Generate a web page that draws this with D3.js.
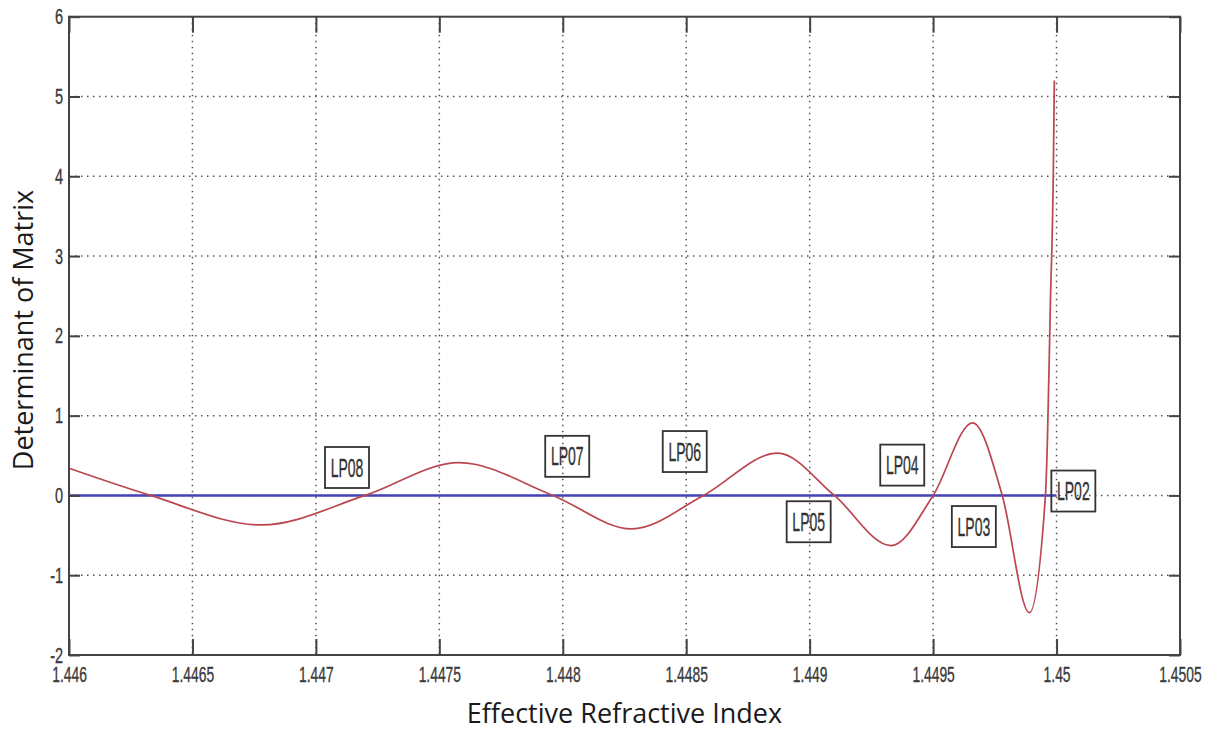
<!DOCTYPE html>
<html>
<head>
<meta charset="utf-8">
<script src="https://cdn.jsdelivr.net/npm/d3@7"></script>
<style>
  body { margin: 0; background: #fff; }
  svg { display: block; }
  .tick text { font-family: "Liberation Sans", Arial, sans-serif; font-size: 22px; fill: #3a3a3a; stroke: #3a3a3a; stroke-width: 0.35px; }
  .titulo { font-family: "Open Sans", sans-serif; font-size: 27px; fill: #1a1a1a; }
  .modo text { font-family: "Liberation Sans", Arial, sans-serif; font-size: 25px; fill: #333; stroke: #333; stroke-width: 0.35px; }
</style>
</head>
<body>
<div class="vis"><svg width="1217" height="731"></svg></div>
<script>

// dados
const x_ticks = [1.446, 1.4465, 1.447, 1.4475, 1.448, 1.4485, 1.449, 1.4495, 1.45, 1.4505];
const x_tick_labels = ["1.446", "1.4465", "1.447", "1.4475", "1.448", "1.4485", "1.449", "1.4495", "1.45", "1.4505"];
const y_ticks = [-2, -1, 0, 1, 2, 3, 4, 5, 6];

const neff = [1.4460, 1.44633, 1.44678, 1.44720, 1.44758, 1.44796, 1.44828, 1.44857, 1.44887,
              1.44910, 1.44933, 1.44950, 1.44966, 1.44978, 1.44989, 1.449955, 1.449963, 1.449975,
              1.449987, 1.449991];
const det  = [0.34, 0, -0.37, 0, 0.41, 0, -0.42, 0, 0.53,
              0, -0.63, 0, 0.91, 0, -1.47, 0, 0.69, 2.4,
              4.08, 5.2];

const linha_zero_neff = [1.446, 1.45];
const linha_zero_det = [0, 0];

const modos = ["LP08", "LP07", "LP06", "LP05", "LP04", "LP03", "LP02"];
const modos_neff = [1.447126, 1.448018, 1.448494, 1.448996, 1.449375, 1.449665, 1.450068];
const modos_det = [0.35, 0.49, 0.55, -0.33, 0.38, -0.39, 0.055];

const vis = {

    sels : {
        svg : null
    },

    dims : {
        left : 69,
        right : 1180,
        top : 16.7,
        bottom : 655
    },

    scales : {
        x : null,
        y : null
    },

    utils : {

        set_scales : function() {

            vis.scales.x = d3.scaleLinear()
              .domain([1.446, 1.4505])
              .range([vis.dims.left, vis.dims.right]);

            vis.scales.y = d3.scaleLinear()
              .domain([-2, 6])
              .range([vis.dims.bottom, vis.dims.top]);

        }

    },

    render : {

        grid : function() {

            const x = vis.scales.x, y = vis.scales.y;
            const g = vis.sels.svg.append("g").attr("class", "grid")
              .attr("stroke", "#555").attr("stroke-width", 1.5)
              .attr("stroke-dasharray", "1.5,4.5");

            g.selectAll("line.v")
              .data(x_ticks.slice(1, -1))
              .join("line")
              .attr("x1", d => x(d)).attr("x2", d => x(d))
              .attr("y1", vis.dims.top).attr("y2", vis.dims.bottom);

            g.selectAll("line.h")
              .data(y_ticks.slice(1, -1))
              .join("line")
              .attr("y1", d => y(d)).attr("y2", d => y(d))
              .attr("x1", vis.dims.left).attr("x2", vis.dims.right);

        },

        axes : function() {

            const x = vis.scales.x, y = vis.scales.y;
            const svg = vis.sels.svg;

            const fmt_x = (d, i) => x_tick_labels[i];

            const bottom = svg.append("g")
              .attr("transform", `translate(0,${vis.dims.bottom})`)
              .call(d3.axisBottom(x).tickValues(x_ticks).tickFormat(fmt_x)
                .tickSize(-16).tickSizeOuter(0).tickPadding(11));

            const top = svg.append("g")
              .attr("transform", `translate(0,${vis.dims.top})`)
              .call(d3.axisTop(x).tickValues(x_ticks).tickFormat("")
                .tickSize(-16).tickSizeOuter(0));

            const left = svg.append("g")
              .attr("transform", `translate(${vis.dims.left},0)`)
              .call(d3.axisLeft(y).tickValues(y_ticks).tickFormat(d => String(d))
                .tickSize(-11).tickSizeOuter(0).tickPadding(9));

            const right = svg.append("g")
              .attr("transform", `translate(${vis.dims.right},0)`)
              .call(d3.axisRight(y).tickValues(y_ticks).tickFormat("")
                .tickSize(-11).tickSizeOuter(0));

            [bottom, top, left, right].forEach(a => {
                a.select(".domain").remove();
                a.selectAll(".tick line").attr("stroke", "#444").attr("stroke-width", 2);
            });

            // fonte estreita do matlab
            bottom.selectAll(".tick text").attr("transform", "scale(0.63,1)");
            left.selectAll(".tick text").attr("transform", "scale(0.66,1)");

            svg.append("rect")
              .attr("x", vis.dims.left).attr("y", vis.dims.top)
              .attr("width", vis.dims.right - vis.dims.left)
              .attr("height", vis.dims.bottom - vis.dims.top)
              .attr("fill", "none").attr("stroke", "#444").attr("stroke-width", 2);

        },

        lines : function() {

            const x = vis.scales.x, y = vis.scales.y;

            const linha = d3.line()
              .x(d => x(d[0]))
              .y(d => y(d[1]));

            vis.sels.svg.append("path")
              .datum(d3.zip(linha_zero_neff, linha_zero_det))
              .attr("d", linha)
              .attr("fill", "none")
              .attr("stroke", "#4343b8")
              .attr("stroke-width", 2.5);

            vis.sels.svg.append("path")
              .datum(d3.zip(neff, det))
              .attr("d", linha.curve(d3.curveMonotoneX))
              .attr("fill", "none")
              .attr("stroke", "#bb4550")
              .attr("stroke-width", 1.7);

        },

        labels : function() {

            const x = vis.scales.x, y = vis.scales.y;

            const g = vis.sels.svg.selectAll("g.modo")
              .data(modos)
              .join("g")
              .attr("class", "modo")
              .attr("transform", (d, i) => `translate(${x(modos_neff[i])},${y(modos_det[i])})`);

            g.append("rect")
              .attr("x", -22).attr("y", -20.5)
              .attr("width", 44).attr("height", 41)
              .attr("fill", "none")
              .attr("stroke", "#333")
              .attr("stroke-width", 1.8);

            g.append("text")
              .attr("text-anchor", "middle")
              .attr("dy", "0.36em")
              .attr("transform", "scale(0.56,1)")
              .text(d => d);

        },

        titles : function() {

            const svg = vis.sels.svg;

            svg.append("text")
              .attr("class", "titulo")
              .attr("x", (vis.dims.left + vis.dims.right) / 2)
              .attr("y", 723)
              .attr("text-anchor", "middle")
              .text("Effective Refractive Index");

            svg.append("text")
              .attr("class", "titulo")
              .attr("transform", "translate(33,330) rotate(-90)")
              .attr("text-anchor", "middle")
              .text("Determinant of Matrix");

        }

    },

    control : {

        init : function() {

            vis.sels.svg = d3.select("svg");
            vis.utils.set_scales();
            vis.render.grid();
            vis.render.lines();
            vis.render.axes();
            vis.render.labels();
            vis.render.titles();

        }

    }

}

vis.control.init();
</script>
</body>
</html>
